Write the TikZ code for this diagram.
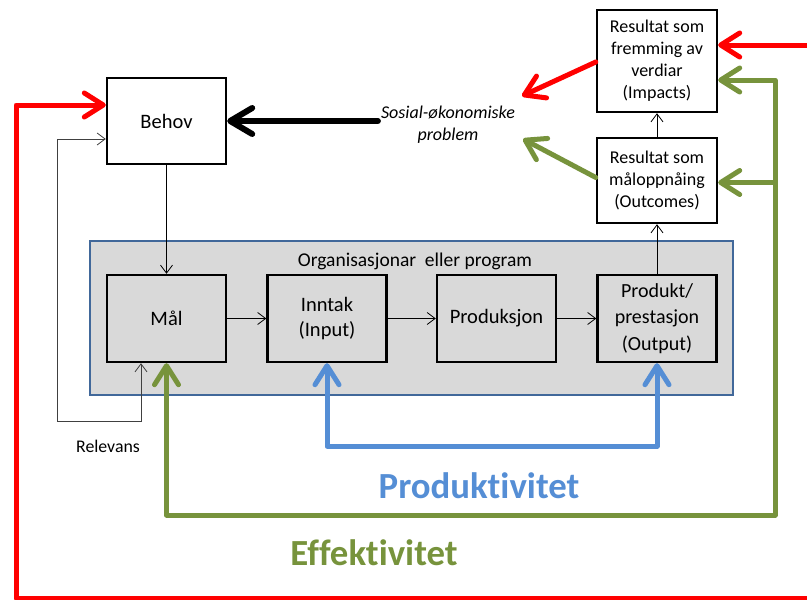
\documentclass[tikz,border=0pt]{standalone}
\usepackage{fontspec}
\setmainfont{Carlito}[Ligatures=NoCommon]
\usetikzlibrary{arrows.meta,calc}

\definecolor{effgreen}{HTML}{77933C}
\definecolor{prodblue}{HTML}{558ED5}
\definecolor{orgfill}{HTML}{D9D9D9}
\definecolor{orgline}{HTML}{41689A}
\definecolor{relgray}{HTML}{404040}

\tikzset{
  x=1pt, y=-1pt,
  box/.style={draw=black, line width=2.4pt, fill=white, align=center,
    inner sep=2pt, font=\fontsize{20.5}{25}\selectfont},
  topbox/.style={box, font=\fontsize{18}{22}\selectfont},
  orgbox/.style={box, fill=orgfill, minimum width=119pt, minimum height=87pt},
  thintip/.tip={Straight Barb[length=8pt,width=12pt]},
  bigtip/.tip={Straight Barb[length=19pt,width=24pt,round]},
  blacktip/.tip={Straight Barb[length=22pt,width=26pt,round]},
  thinline/.style={line width=0.8pt, draw=black},
  relline/.style={line width=0.8pt, draw=relgray},
  redline/.style={line width=5pt, draw=red, line join=round},
  greenline/.style={line width=5pt, draw=effgreen, line join=round},
  blueline/.style={line width=5pt, draw=prodblue, line join=round},
  bigword/.style={font=\fontsize{36.8}{42}\selectfont\bfseries},
}

\begin{document}
\begin{tikzpicture}
\useasboundingbox (0,0) rectangle (807,600);

% organisation frame
\node[draw=orgline, line width=2pt, fill=orgfill, minimum width=643pt,
      minimum height=154pt, inner sep=0pt] (org) at (411.5,318) {};
\node[font=\fontsize{19.5}{23}\selectfont] (orglabel) at (415,261)
  {Organisasjonar\ \ eller program};

% boxes
\node[box, minimum width=119pt, minimum height=86pt] (behov) at (166.5,121) {Behov};
\node[topbox, minimum width=120pt, minimum height=102pt] (impacts) at (657,61)
  {Resultat som\\fremming av\\verdiar\\(Impacts)};
\node[topbox, minimum width=120pt, minimum height=85pt] (outcomes) at (657,180.5)
  {Resultat som\\måloppnåing\\(Outcomes)};
\node[orgbox] (mal) at (166.5,318.5) {Mål};
\node[orgbox] (inntak) at (327,318.5) {Inntak\\(Input)};
\node[orgbox] (prod) at (496.5,318.5) {Produksjon};
\node[orgbox, font=\fontsize{20}{26.5}\selectfont] (output) at (657,318.5)
  {Produkt/\\prestasjon\\(Output)};

% free text
\node[font=\fontsize{18}{22}\selectfont\itshape, align=center, inner sep=3pt]
  (soc) at (448,125) {Sosial-økonomiske\\problem};
\node[font=\fontsize{17.8}{20}\selectfont] (relevans) at (108,446) {Relevans};
\node[bigword, text=prodblue] (produktivitet) at (479,486) {Produktivitet};
\node[bigword, text=effgreen] (effektivitet) at (374,553) {Effektivitet};

% free ends
\coordinate (redin) at (815,45);
\coordinate (redloop) at (815,598);
\coordinate (redout) at (522,96);
\coordinate (greenout) at (523,139);
\coordinate (greenjoin) at (775,182.5);

% thin flow arrows
\draw[thinline, -{thintip}] (behov.south) -- (mal.north);
\draw[thinline, -{thintip}] (mal.east) -- (inntak.west);
\draw[thinline, -{thintip}] (inntak.east) -- (prod.west);
\draw[thinline, -{thintip}] (prod.east) -- (output.west);
\draw[thinline, -{thintip}] (output.north) -- (outcomes.south);
\draw[thinline, -{thintip}] (outcomes.north) -- (impacts.south);

% relevance loop
\draw[relline, {thintip}-{thintip}] ($(mal.south)+(-25.5,0)$) |- (57,421)
  |- ($(behov.west)+(0,18)$);

% social problem pushes on needs
\draw[line width=6pt, line cap=round, -{blacktip}] (soc.west |- behov.east) -- (behov.east);

% red loop
\draw[redline, -{bigtip}] (redloop) -| (16,105) -- ($(behov.west)+(0,-16)$);
\draw[redline, -{bigtip}] (redin) -- ($(impacts.east)+(0,-16)$);
\draw[redline, line cap=round, -{bigtip}] ($(impacts.west)+(0,1)$) -- (redout);

% green loop (effectiveness)
\draw[greenline, {bigtip}-{bigtip}] ($(impacts.east)+(0,19)$) -| (775,515) -| (mal.south);
\draw[greenline, -{bigtip}] (greenjoin) -- ($(outcomes.east)+(0,2)$);
\draw[greenline, line cap=round, -{bigtip}] ($(outcomes.west)+(0,-3)$) -- (greenout);

% blue loop (productivity)
\draw[blueline, {bigtip}-{bigtip}] (inntak.south) -- ++(0,83) -| (output.south);

\end{tikzpicture}
\end{document}
